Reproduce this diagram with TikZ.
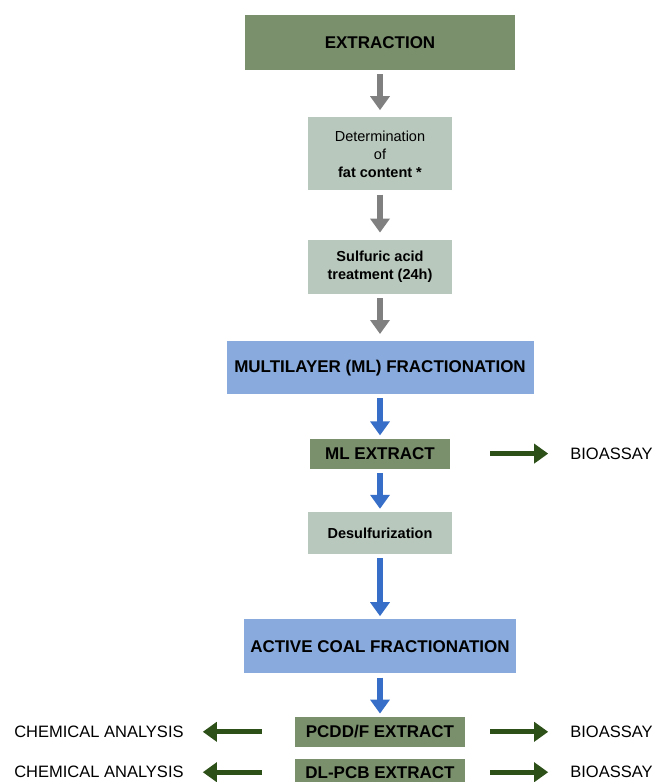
\documentclass[tikz,border=0pt]{standalone}
\usepackage{fontspec}
\setmainfont{Liberation Sans}
\usepackage{tikz}
\usetikzlibrary{arrows.meta}
\usetikzlibrary{positioning}
\definecolor{boxgreen}{RGB}{122,143,108}
\definecolor{boxsage}{RGB}{184,200,189}
\definecolor{boxblue}{RGB}{136,170,220}
\definecolor{arrgrey}{RGB}{128,128,128}
\definecolor{arrblue}{RGB}{55,110,200}
\definecolor{arrgreen}{RGB}{45,80,25}
\tikzset{
  >={Triangle[width=19pt,length=14pt]},
  box/.style = {rectangle, inner sep=0pt, align=center,
    font=\fontsize{17}{19}\selectfont\bfseries},
  dark/.style = {box, fill=boxgreen},
  sage/.style = {box, fill=boxsage, minimum width=144pt,
    font=\fontsize{14.5}{18}\selectfont},
  frac/.style = {box, fill=boxblue, minimum height=54pt},
  result/.style = {inner sep=0pt, font=\fontsize{16.5}{19}\selectfont},
  greyflow/.style = {->, arrgrey, line width=5.5pt, shorten <=4pt, shorten >=7pt},
  blueflow/.style = {->, arrblue, line width=5.5pt, shorten <=4pt, shorten >=3pt},
  sideflow/.style = {->, arrgreen, line width=5pt},
}

\begin{document}
\begin{tikzpicture}[x=1pt, y=-1pt]
    \useasboundingbox (0,0) rectangle (657,782);
    \node [dark, minimum width=270pt, minimum height=55pt] (extraction) at (380,42.5) {EXTRACTION};
    \node [sage, minimum height=73pt, below=47pt of extraction] (fat) {Determination\\of\\\textbf{fat content *}};
    \node [sage, minimum height=54pt, font=\fontsize{14.5}{18}\selectfont\bfseries, below=49pt of fat] (acid) {Sulfuric acid\\treatment (24h)};
    \node [frac, minimum width=307pt, minimum height=53pt, below=47pt of acid] (mlfrac) {MULTILAYER (ML) FRACTIONATION};
    \node [dark, minimum width=140pt, minimum height=30pt, below=44pt of mlfrac] (mlext) {ML EXTRACT};
    \node [sage, minimum height=42pt, font=\fontsize{14.5}{18}\selectfont\bfseries, below=43pt of mlext] (desulf) {Desulfurization};
    \node [frac, minimum width=272pt, below=65pt of desulf] (coal) {ACTIVE COAL FRACTIONATION};
    \node [dark, minimum width=170pt, minimum height=30pt, below=43pt of coal] (pcdd) {PCDD/F EXTRACT};
    \node [dark, minimum width=170pt, minimum height=26pt, below=12pt of pcdd] (dlpcb) {DL-PCB EXTRACT};

    \node [result, right=120pt of mlext] (bio1) {BIOASSAY};
    \node [result, right=105pt of pcdd] (bio2) {BIOASSAY};
    \node [result, right=105pt of dlpcb] (bio3) {BIOASSAY};
    \node [result, left=111pt of pcdd] (chem1) {CHEMICAL ANALYSIS};
    \node [result, left=111pt of dlpcb] (chem2) {CHEMICAL ANALYSIS};

    \draw [greyflow] (extraction) -- (fat);
    \draw [greyflow] (fat) -- (acid);
    \draw [greyflow] (acid) -- (mlfrac);
    \draw [blueflow] (mlfrac) -- (mlext);
    \draw [blueflow] (mlext) -- (desulf);
    \draw [blueflow] (desulf) -- (coal);
    \draw [blueflow] (coal) -- (pcdd);

    \draw [sideflow, shorten <=40pt, shorten >=22pt] (mlext) -- (bio1);
    \draw [sideflow, shorten <=25pt, shorten >=22pt] (pcdd) -- (bio2);
    \draw [sideflow, shorten <=25pt, shorten >=22pt] (dlpcb) -- (bio3);
    \draw [sideflow, shorten <=33pt, shorten >=19pt] (pcdd) -- (chem1);
    \draw [sideflow, shorten <=33pt, shorten >=19pt] (dlpcb) -- (chem2);
  \end{tikzpicture}
\end{document}
